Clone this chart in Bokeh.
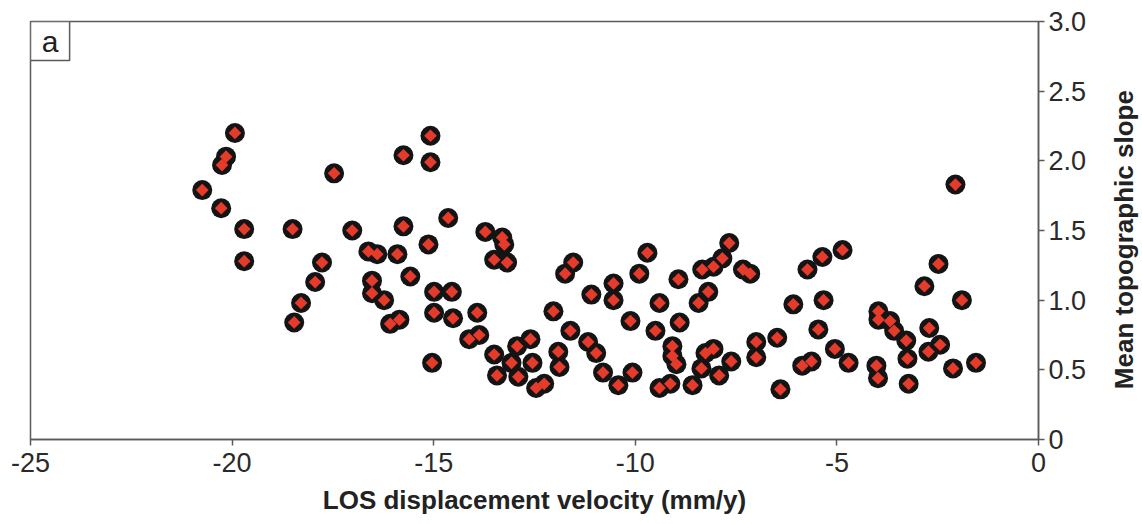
import math
from bokeh.plotting import figure
from bokeh.layouts import row
from bokeh.models import (FixedTicker, CustomJSTickFormatter, LinearAxis, Range1d,
                          BoxAnnotation, Label)
from bokeh.core.properties import value
from bokeh.embed import file_html
from bokeh.resources import INLINE

# LOS displacement velocity (mm/y)
velocity = [
    -19.93, -20.15, -20.25, -20.74, -20.27, -19.70, -19.70, -18.50, -17.47, -17.02,
    -17.77, -17.94, -18.29, -18.46, -16.62, -16.40, -15.90, -16.53, -16.53, -16.23,
    -16.08, -15.85, -15.75, -15.08, -15.08, -15.75, -14.64, -13.72, -15.13, -13.30,
    -13.25, -13.50, -13.18, -15.58, -14.99, -14.55, -14.99, -14.52, -13.92, -14.12,
    -13.87, -15.04, -13.50, -13.43, -13.07, -12.93, -12.60, -12.90, -12.55, -12.46,
    -12.26, -11.91, -11.88, -12.03, -11.61, -11.17, -10.97, -10.80, -10.42, -10.07,
    -10.12, -11.09, -10.54, -10.54, -11.74, -11.54, -9.90, -9.70, -9.40, -9.50,
    -8.93, -8.90, -9.08, -9.08, -8.98, -9.40, -9.13, -8.58, -8.36, -8.26,
    -8.06, -7.62, -7.92, -8.43, -8.19, -8.34, -8.06, -7.84, -7.67, -7.33,
    -7.15, -7.00, -7.00, -6.48, -6.40, -6.08, -5.86, -5.63, -5.73, -5.36,
    -4.86, -5.33, -5.46, -5.05, -4.71, -4.02, -3.98, -3.97, -3.97, -3.68,
    -3.58, -3.28, -3.25, -3.22, -2.71, -2.44, -2.73, -2.83, -2.48, -1.90,
    -2.12, -1.55, -2.06,
]
# Mean topographic slope
slope = [
    2.20, 2.03, 1.97, 1.79, 1.66, 1.51, 1.28, 1.51, 1.91, 1.50,
    1.27, 1.13, 0.98, 0.84, 1.35, 1.33, 1.33, 1.14, 1.05, 1.00,
    0.83, 0.86, 2.04, 2.18, 1.99, 1.53, 1.59, 1.49, 1.40, 1.45,
    1.40, 1.29, 1.27, 1.17, 1.06, 1.06, 0.91, 0.87, 0.91, 0.72,
    0.75, 0.55, 0.61, 0.46, 0.55, 0.67, 0.72, 0.45, 0.55, 0.37,
    0.40, 0.63, 0.52, 0.92, 0.78, 0.70, 0.62, 0.48, 0.39, 0.48,
    0.85, 1.04, 1.00, 1.12, 1.19, 1.27, 1.19, 1.34, 0.98, 0.78,
    1.15, 0.84, 0.67, 0.60, 0.54, 0.37, 0.40, 0.39, 0.51, 0.62,
    0.65, 0.56, 0.46, 0.98, 1.06, 1.22, 1.24, 1.30, 1.41, 1.22,
    1.19, 0.70, 0.59, 0.73, 0.36, 0.97, 0.53, 0.56, 1.22, 1.31,
    1.36, 1.00, 0.79, 0.65, 0.55, 0.53, 0.44, 0.92, 0.86, 0.85,
    0.78, 0.71, 0.58, 0.40, 0.80, 0.68, 0.63, 1.10, 1.26, 1.00,
    0.51, 0.55, 1.83,
]

x_ticks = [-25, -20, -15, -10, -5, 0]
y_ticks = [0, 0.5, 1.0, 1.5, 2.0, 2.5, 3.0]
x_title = "LOS displacement velocity (mm/y)"
y_title = "Mean topographic slope"
panel_tag = "a"

FONT = "Liberation Sans"
AX = "#5a5a5a"

p = figure(frame_width=1008, frame_height=418, output_backend="svg",
           toolbar_location=None, x_range=Range1d(-25, 0), y_range=Range1d(0, 3.0),
           y_axis_location=None, min_border_left=30, min_border_top=21,
           min_border_right=62, min_border_bottom=0)
p.background_fill_color = "white"
p.border_fill_color = "white"
p.grid.visible = False
p.outline_line_color = AX
p.outline_line_width = 1.5

xa = p.xaxis[0]
xa.ticker = FixedTicker(ticks=x_ticks)
xa.axis_label = x_title
xa.formatter = CustomJSTickFormatter(code="return tick.toString();")

ya = LinearAxis(ticker=FixedTicker(ticks=y_ticks),
                formatter=CustomJSTickFormatter(code="return tick == 0 ? '0' : tick.toFixed(1);"))
p.add_layout(ya, "right")

for ax in (xa, ya):
    ax.axis_line_color = AX
    ax.axis_line_width = 1.5
    ax.major_tick_line_color = AX
    ax.major_tick_line_width = 1.5
    ax.major_tick_out = 6
    ax.major_tick_in = 0
    ax.minor_tick_line_color = None
    ax.major_label_text_font = FONT
    ax.major_label_text_font_size = "27px"
    ax.major_label_text_color = "#2a2a2a"
    ax.axis_label_text_font = FONT
    ax.axis_label_text_font_size = "26px"
    ax.axis_label_text_font_style = "bold"
    ax.axis_label_text_color = "#222222"

xa.major_label_standoff = 7
xa.axis_label_standoff = 10
ya.major_label_standoff = 4

p.circle(velocity, slope, radius=10, radius_units="screen", fill_color="#141414",
         line_color=None)
p.scatter(velocity, slope, marker="square", angle=math.pi / 4, size=9,
          fill_color="#e63b2b", line_color=None)

tag_box = BoxAnnotation(left=-25, right=-24.03, top=3.0, bottom=2.72,
                        fill_color="white", fill_alpha=1.0, line_color=AX,
                        line_alpha=1.0, line_width=1.5)
p.add_layout(tag_box)
p.add_layout(Label(x=-24.515, y=2.86, text=panel_tag, text_align="center",
                   text_baseline="middle", text_font=FONT, text_font_size="30px",
                   text_color="#222222"))

# narrow strip on the right carrying the y-axis title, reading bottom-to-top
q = figure(width=40, height=500, output_backend="svg", toolbar_location=None,
           x_range=Range1d(0, 40), y_range=Range1d(0, 500), min_border=0)
q.axis.visible = False
q.grid.visible = False
q.outline_line_color = None
q.background_fill_color = "white"
q.border_fill_color = "white"
q.text(x=[23], y=[228], text=[y_title], angle=math.pi / 2, text_align="center",
       text_baseline="middle", text_font=value(FONT), text_font_size="26px",
       text_font_style="bold", text_color="#222222")

open("out.html", "w").write(file_html(row(p, q, spacing=0), INLINE))
